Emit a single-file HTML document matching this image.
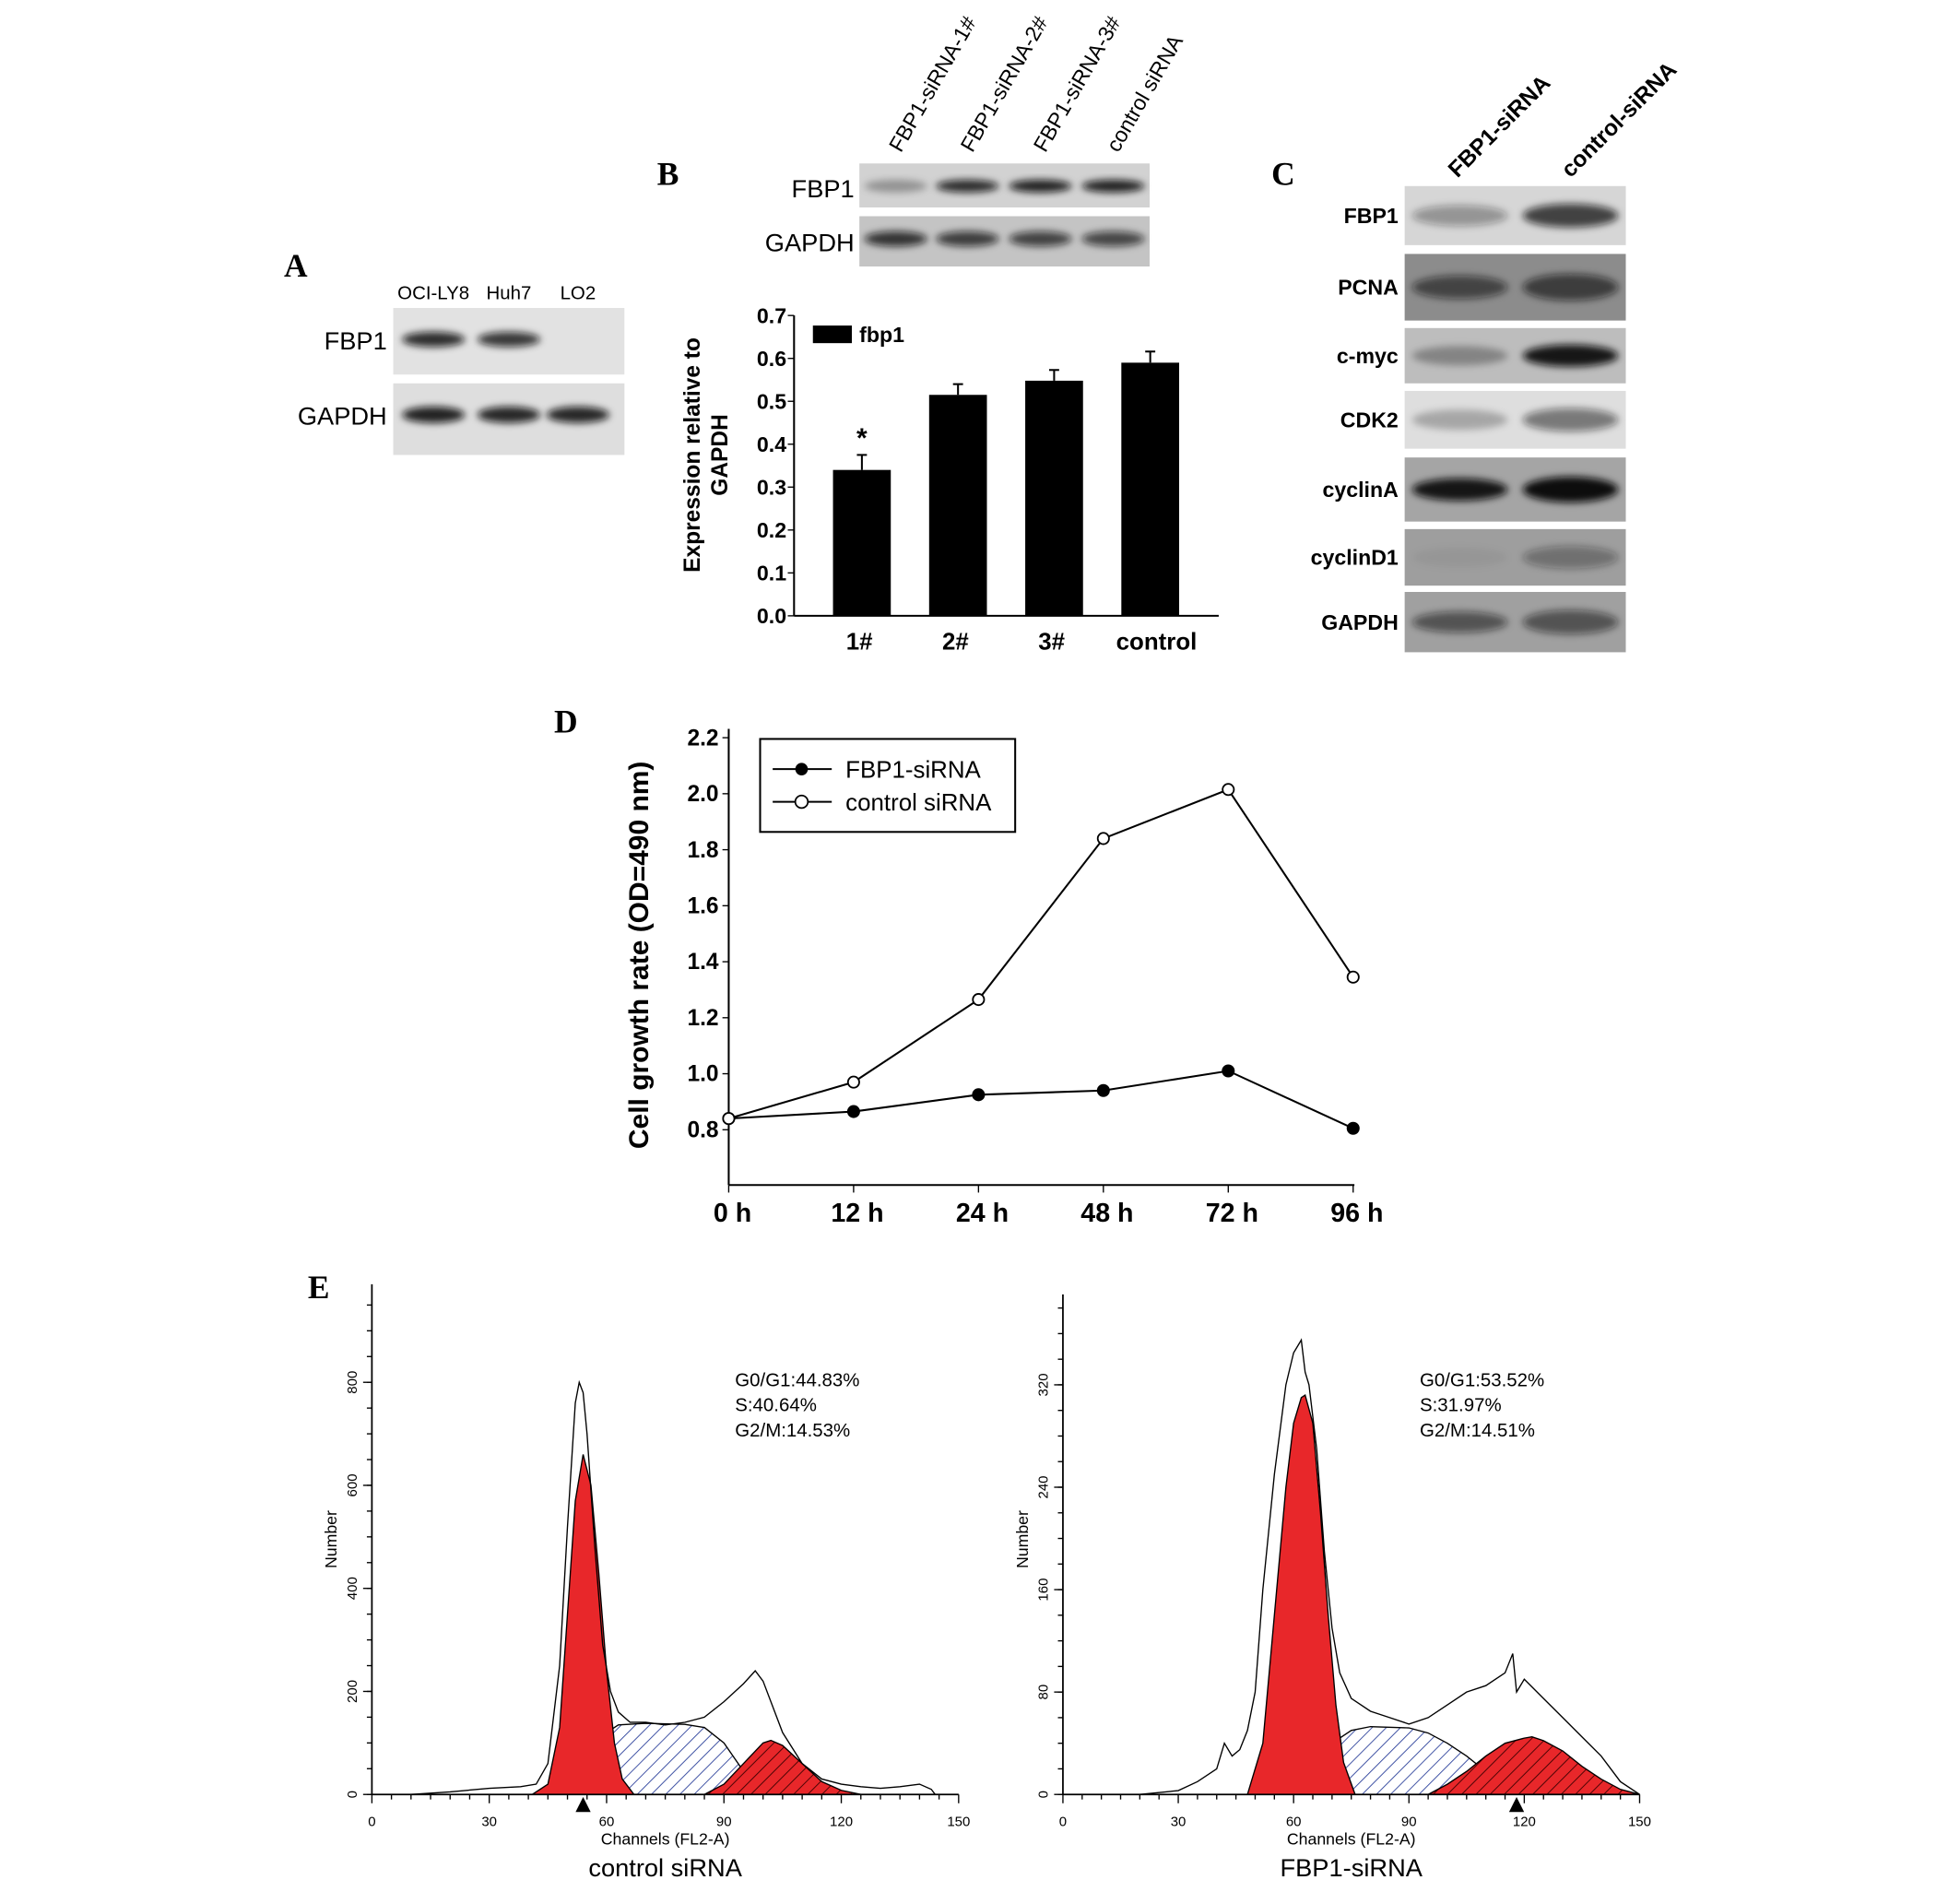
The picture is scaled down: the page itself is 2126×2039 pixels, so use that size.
<!DOCTYPE html>
<html><head><meta charset="utf-8"><style>
html,body{margin:0;padding:0;background:#fff}
svg{display:block}
text{font-family:"Liberation Sans",sans-serif}
.pl{font-family:"Liberation Serif",serif;font-weight:bold;font-size:26px}
</style></head><body>
<svg id="fig" width="2126" height="2039" viewBox="0 0 1560 1496" xmlns="http://www.w3.org/2000/svg">
<defs>
<filter id="blur" x="-20%" y="-50%" width="140%" height="200%"><feGaussianBlur stdDeviation="3"/></filter>
<pattern id="hatchBlue" width="8" height="8" patternUnits="userSpaceOnUse" patternTransform="rotate(45)"><rect width="8" height="8" fill="#fff"/><line x1="0" y1="0" x2="0" y2="8" stroke="#2a3f9a" stroke-width="1.3"/></pattern>
<pattern id="hatchRed" width="8" height="8" patternUnits="userSpaceOnUse" patternTransform="rotate(45)"><rect width="8" height="8" fill="#e8272a"/><line x1="0" y1="0" x2="0" y2="8" stroke="#3a0000" stroke-width="1.3"/></pattern>
</defs>
<g id="root"></g>
</svg>
<script>
// ---------- data ----------
const barCategories = ["1#","2#","3#","control"];
const barValues = [0.34,0.515,0.548,0.59];
const barErrors = [0.035,0.025,0.025,0.026];
const barTicks = ["0.0","0.1","0.2","0.3","0.4","0.5","0.6","0.7"];

const lineCategories = ["0 h","12 h","24 h","48 h","72 h","96 h"];
const fbpValues = [0.84,0.865,0.925,0.94,1.01,0.805];
const ctrlValues = [0.84,0.97,1.265,1.84,2.015,1.345];
const lineTicks = ["0.8","1.0","1.2","1.4","1.6","1.8","2.0","2.2"];

const histXTicks = ["0","30","60","90","120","150"];
const leftYTicks = ["0","200","400","600","800"];
const rightYTicks = ["0","80","160","240","320"];

const leftRawCh = [10,20,30,38,42,45,48,50,52,53,54,55,57,59,61,63,66,70,75,80,85,90,95,98,100,102,105,110,115,120,125,130,135,140,143,144];
const leftRawVal = [0,5,12,15,20,60,250,520,760,800,780,700,480,290,200,160,140,140,135,140,150,180,215,240,220,180,120,60,30,20,15,12,15,20,10,0];
const leftG1Ch = [41,45,48,50,52,54,56,58,60,62,64,67];
const leftG1Val = [0,20,130,350,570,660,600,430,240,100,30,0];
const leftSCh = [45,50,55,60,63,70,80,85,90,95,100];
const leftSVal = [0,30,80,120,135,138,136,130,100,45,0];
const leftG2Ch = [85,90,95,100,102,105,110,115,120,125];
const leftG2Val = [0,20,60,100,105,95,60,25,8,0];

const rightRawCh = [20,30,35,40,42,44,46,48,50,52,55,58,60,62,63,64,66,68,70,72,75,80,85,90,95,100,105,110,115,117,118,120,125,130,135,140,145,150];
const rightRawVal = [0,3,10,20,40,30,35,50,80,160,250,320,345,355,330,320,270,190,130,95,75,65,60,55,60,70,80,85,95,110,80,90,75,60,45,30,10,0];
const rightG1Ch = [48,52,55,58,60,62,63,65,67,69,71,73,76];
const rightG1Val = [0,40,140,240,290,310,312,290,220,140,70,25,0];
const rightSCh = [55,60,65,70,75,80,90,95,100,105,110,115,120];
const rightSVal = [0,10,25,40,50,53,52,48,40,30,18,6,0];
const rightG2Ch = [95,100,105,110,115,120,122,125,130,135,140,145,150];
const rightG2Val = [0,8,18,30,40,44,45,42,34,22,12,4,0];

// blot band intensities (0..1)
const blotALanes = ["OCI-LY8","Huh7","LO2"];
const blotAFbp1 = [0.85,0.8,0];
const blotAGapdh = [0.9,0.88,0.88];
const blotBLanes = ["FBP1-siRNA-1#","FBP1-siRNA-2#","FBP1-siRNA-3#","control siRNA"];
const blotBFbp1 = [0.3,0.85,0.9,0.9];
const blotBGapdh = [0.8,0.75,0.72,0.7];
const blotCRows = ["FBP1","PCNA","c-myc","CDK2","cyclinA","cyclinD1","GAPDH"];
const blotCLeft = [0.35,0.6,0.3,0.25,0.95,0.05,0.55];
const blotCRight = [0.75,0.65,0.95,0.5,1.0,0.35,0.55];
const blotCBg = ["#d6d6d6","#8c8c8c","#bdbdbd","#dedede","#a5a5a5","#9e9e9e","#a0a0a0"];

// ---------- helpers ----------
const NS="http://www.w3.org/2000/svg";
const root=document.getElementById('root');
function mk(tag,attrs,parent){const e=document.createElementNS(NS,tag);for(const k in attrs)e.setAttribute(k,attrs[k]);(parent||root).appendChild(e);return e;}
function txt(x,y,s,attrs,parent){const e=mk('text',Object.assign({x:x,y:y},attrs||{}),parent);e.textContent=s;return e;}
function band(g,cx,cy,w,h,intensity){
  const e=mk('ellipse',{cx:cx,cy:cy,rx:w/2,ry:h/2,fill:'#111','fill-opacity':intensity,filter:'url(#blur)'},g);
  
  
}
function strip(x,y,w,h,bg,name){
  const g=mk('g',{});
  
  
  mk('rect',{x:x,y:y,width:w,height:h,fill:bg},g);
  return g;
}

// ---------- panel letters ----------
[["A",226,220],["B",523,147],["C",1012,147],["D",441,583],["E",245,1033]].forEach(p=>{
  const t=txt(p[1],p[2],p[0],{class:'pl'});
  
  
});

// ---------- Panel A ----------
(function(){
  const x0=313,w=184,laneX=[345,405,460];
  blotALanes.forEach((l,i)=>{const t=txt(laneX[i],238,l,{'font-size':15,'text-anchor':'middle'});
    });
  const g1=strip(x0,245,w,53,'#e2e2e2','blot-a-fbp1');
  blotAFbp1.forEach((v,i)=>{if(v>0)band(g1,laneX[i],270,50,12,v);});
  const g2=strip(x0,305,w,57,'#dedede','blot-a-gapdh');
  blotAGapdh.forEach((v,i)=>band(g2,laneX[i],330,50,13,v));
  let t=txt(308,278,"FBP1",{'font-size':20,'text-anchor':'end'});
  t=txt(308,338,"GAPDH",{'font-size':20,'text-anchor':'end'});
})();

// ---------- Panel B blot ----------
(function(){
  const x0=684,w=231,laneX=[713,770,828,886];
  blotBLanes.forEach((l,i)=>{const t=txt(laneX[i]+4,122,l,{'font-size':17,transform:'rotate(-60 '+(laneX[i]+4)+' 122)'});
    });
  const g1=strip(x0,130,w,35,'#d2d2d2','blot-b-fbp1');
  blotBFbp1.forEach((v,i)=>band(g1,laneX[i],148,50,10,v));
  const g2=strip(x0,172,w,40,'#c4c4c4','blot-b-gapdh');
  blotBGapdh.forEach((v,i)=>band(g2,laneX[i],190,50,12,v));
  let t=txt(680,157,"FBP1",{'font-size':20,'text-anchor':'end'});
  t=txt(680,200,"GAPDH",{'font-size':20,'text-anchor':'end'});
})();

// ---------- Panel B bar chart ----------
(function(){
  const g=mk('g',{});
  const ax=632,y0=490,yTop=251,vmax=0.7;
  const y=v=>y0-(v/vmax)*(y0-yTop);
  const xc=i=>686+i*76.5;
  mk('line',{x1:ax,y1:yTop,x2:ax,y2:y0,stroke:'#000','stroke-width':1.5},g);
  mk('line',{x1:ax,y1:y0,x2:970,y2:y0,stroke:'#000','stroke-width':1.5},g);
  barTicks.forEach((s,i)=>{const v=i*0.1;mk('line',{x1:ax-5,y1:y(v),x2:ax,y2:y(v),stroke:'#000'},g);
    const t=txt(ax-6,y(v)+6,s,{'font-size':17,'font-weight':'bold','text-anchor':'end'},g);});
  barValues.forEach((v,i)=>{
    const r=mk('rect',{x:xc(i)-23,y:y(v),width:46,height:y0-y(v),fill:'#000'},g);
    
    const e=y(v+barErrors[i]);
    mk('line',{x1:xc(i),y1:y(v),x2:xc(i),y2:e,stroke:'#000','stroke-width':1.5},g);
    mk('line',{x1:xc(i)-4,y1:e,x2:xc(i)+4,y2:e,stroke:'#000','stroke-width':1.5},g);
    const t=txt(xc(i)+(i==3?5:-2),517,barCategories[i],{'font-size':19,'font-weight':'bold','text-anchor':'middle'},g);
    
  });
  const st=txt(xc(0),y(barValues[0]+barErrors[0])-6,"*",{'font-size':22,'font-weight':'bold','text-anchor':'middle'},g);
  
  const lg=mk('rect',{x:647,y:259,width:31,height:14,fill:'#000'},g);
  let t=txt(684,272,"fbp1",{'font-size':17,'font-weight':'bold'},g);
  t=txt(0,0,"Expression relative to",{'font-size':18,'font-weight':'bold','text-anchor':'middle',transform:'translate(557 362) rotate(-90)'},g);
  t=txt(0,0,"GAPDH",{'font-size':18,'font-weight':'bold','text-anchor':'middle',transform:'translate(579 362) rotate(-90)'},g);
})();

// ---------- Panel C ----------
(function(){
  const rowsY=[[148,195],[202,255],[261,305],[311,357],[364,415],[421,466],[471,519]];
  const x0=1118,w=176,lx=[1162,1250];
  let t=txt(1160,142,"FBP1-siRNA",{'font-size':18,'font-weight':'bold',transform:'rotate(-45 1160 142)'});
  t=txt(1250,142,"control-siRNA",{'font-size':18,'font-weight':'bold',transform:'rotate(-45 1250 142)'});
  blotCRows.forEach((r,i)=>{
    const [a,b]=rowsY[i];const cy=(a+b)/2;
    const g=strip(x0,a,w,b-a,blotCBg[i],'blot-c-'+r.toLowerCase());
    band(g,lx[0],cy,76,(b-a)*0.35,blotCLeft[i]);
    band(g,lx[1],cy,76,(b-a)*0.4,blotCRight[i]);
    const tt=txt(1113,cy+6,r,{'font-size':17,'font-weight':'bold','text-anchor':'end'});
    
  });
})();

// ---------- Panel D line chart ----------
(function(){
  const g=mk('g',{});
  const ax=580,yb=943,y=v=>899-(v-0.8)/0.2*44.57;
  const xc=i=>580+i*99.4;
  mk('line',{x1:ax,y1:580,x2:ax,y2:yb,stroke:'#000','stroke-width':1.5},g);
  mk('line',{x1:ax,y1:yb,x2:1078,y2:yb,stroke:'#000','stroke-width':1.5},g);
  lineTicks.forEach((s,i)=>{const v=0.8+i*0.2;mk('line',{x1:ax-5,y1:y(v),x2:ax,y2:y(v),stroke:'#000'},g);
    const t=txt(ax-8,y(v)+6,s,{'font-size':18,'font-weight':'bold','text-anchor':'end'},g);});
  lineCategories.forEach((s,i)=>{mk('line',{x1:xc(i),y1:yb,x2:xc(i),y2:yb+6,stroke:'#000'},g);
    const t=txt(xc(i)+3,972,s,{'font-size':21,'font-weight':'bold','text-anchor':'middle'},g);});
  function series(vals,fill,name){
    const p=mk('polyline',{points:vals.map((v,i)=>xc(i)+','+y(v)).join(' '),fill:'none',stroke:'#000','stroke-width':1.5},g);
    
    vals.forEach((v,i)=>{const c=mk('circle',{cx:xc(i),cy:y(v),r:4.5,fill:fill,stroke:'#000','stroke-width':1.3},g);
      });
  }
  series(fbpValues,'#000','fbp1-sirna');
  series(ctrlValues,'#fff','control-sirna');
  const lb=mk('rect',{x:605,y:588,width:203,height:74,fill:'#fff',stroke:'#000','stroke-width':1.5},g);
  
  mk('line',{x1:615,y1:612,x2:662,y2:612,stroke:'#000','stroke-width':1.5},g);
  mk('circle',{cx:638,cy:612,r:5,fill:'#000'},g);
  mk('line',{x1:615,y1:638,x2:662,y2:638,stroke:'#000','stroke-width':1.5},g);
  mk('circle',{cx:638,cy:638,r:5,fill:'#fff',stroke:'#000','stroke-width':1.3},g);
  let t=txt(673,619,"FBP1-siRNA",{'font-size':19},g);
  t=txt(673,645,"control siRNA",{'font-size':19},g);
  t=txt(0,0,"Cell growth rate (OD=490 nm)",{'font-size':22,'font-weight':'bold','text-anchor':'middle',transform:'translate(516 760) rotate(-90)'},g);
  
})();

// ---------- Panel E histograms ----------
function hist(cfg){
  const g=mk('g',{});
  const x=c=>cfg.x0+c*(cfg.x150-cfg.x0)/150;
  const y=v=>cfg.yb-v*cfg.py;
  const area=(ch,vals)=>'M'+x(ch[0])+','+cfg.yb+' '+ch.map((c,i)=>'L'+x(c)+','+y(vals[i])).join(' ')+' L'+x(ch[ch.length-1])+','+cfg.yb+' Z';
  let p=mk('path',{d:area(cfg.sCh,cfg.sVal),fill:'url(#hatchBlue)',stroke:'#000','stroke-width':1},g);
  p=mk('path',{d:area(cfg.g2Ch,cfg.g2Val),fill:'url(#hatchRed)',stroke:'#000','stroke-width':1},g);
  p=mk('path',{d:area(cfg.g1Ch,cfg.g1Val),fill:'#e8272a',stroke:'#000','stroke-width':1},g);
  p=mk('polyline',{points:cfg.rawCh.map((c,i)=>x(c)+','+y(cfg.rawVal[i])).join(' '),fill:'none',stroke:'#000','stroke-width':1},g);
  
  mk('line',{x1:cfg.x0,y1:cfg.yb,x2:cfg.x150,y2:cfg.yb,stroke:'#000','stroke-width':1.3},g);
  mk('line',{x1:cfg.x0,y1:cfg.yb,x2:cfg.x0,y2:cfg.top,stroke:'#000','stroke-width':1.3},g);
  for(let c=0;c<=150;c+=5){mk('line',{x1:x(c),y1:cfg.yb,x2:x(c),y2:cfg.yb+(c%30==0?7:4),stroke:'#000'},g);}
  histXTicks.forEach(s=>{const t=txt(x(+s),cfg.yb+25,s,{'font-size':11,'text-anchor':'middle'},g);});
  for(let v=0;y(v)>=cfg.top;v+=cfg.minor){mk('line',{x1:cfg.x0-4,y1:y(v),x2:cfg.x0,y2:y(v),stroke:'#000'},g);}
  cfg.yTicks.forEach(s=>{const yy=y(+s);mk('line',{x1:cfg.x0-7,y1:yy,x2:cfg.x0,y2:yy,stroke:'#000'},g);
    const t=txt(0,0,s,{'font-size':11,'text-anchor':'middle',transform:'translate('+(cfg.x0-12)+' '+yy+') rotate(-90)'},g);});
  let t=txt(0,0,"Number",{'font-size':13,'text-anchor':'middle',transform:'translate('+(cfg.x0-28)+' 1225) rotate(-90)'},g);
  t=txt(x(75),cfg.yb+40,"Channels (FL2-A)",{'font-size':13,'text-anchor':'middle'},g);
  t=txt(x(75),cfg.yb+65,cfg.title,{'font-size':20,'text-anchor':'middle'},g);
  const mk1=mk('polygon',{points:(x(cfg.marker)-6)+','+(cfg.yb+14)+' '+(x(cfg.marker)+6)+','+(cfg.yb+14)+' '+x(cfg.marker)+','+(cfg.yb+2),fill:'#000'},g);
  
  cfg.stats.forEach((s,i)=>{const tt=txt(cfg.statX,1103+i*20,s,{'font-size':15},g);});
}
hist({name:'histogram-control',x0:296,x150:763,yb:1428,top:1022,py:82/200,minor:50,yTicks:leftYTicks,
  rawCh:leftRawCh,rawVal:leftRawVal,g1Ch:leftG1Ch,g1Val:leftG1Val,sCh:leftSCh,sVal:leftSVal,g2Ch:leftG2Ch,g2Val:leftG2Val,
  title:'control siRNA',marker:54,statX:585,stats:["G0/G1:44.83%","S:40.64%","G2/M:14.53%"]});
hist({name:'histogram-fbp1',x0:846,x150:1305,yb:1428,top:1030,py:81.5/80,minor:20,yTicks:rightYTicks,
  rawCh:rightRawCh,rawVal:rightRawVal,g1Ch:rightG1Ch,g1Val:rightG1Val,sCh:rightSCh,sVal:rightSVal,g2Ch:rightG2Ch,g2Val:rightG2Val,
  title:'FBP1-siRNA',marker:118,statX:1130,stats:["G0/G1:53.52%","S:31.97%","G2/M:14.51%"]});
</script>
</body></html>
